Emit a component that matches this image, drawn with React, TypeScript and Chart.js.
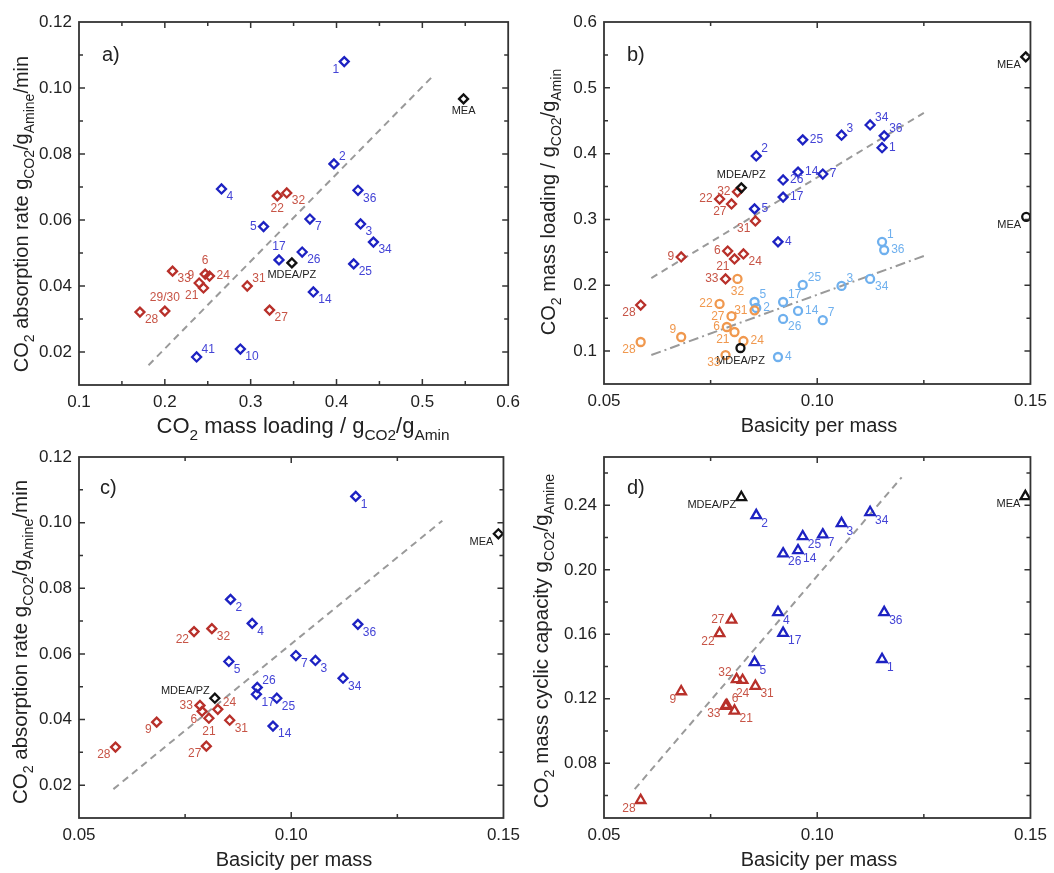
import React, { useEffect, useRef } from "react";
import { Chart, registerables } from "chart.js";
Chart.register(...registerables);

type Pt = [string, number, number];
type Seg = [string, boolean];

const FONT = '"Liberation Sans", Arial, Helvetica, sans-serif';

// ---------------- Panel a: absorption rate vs CO2 mass loading ----------------
const aBlue: Pt[] = [
  ["1", 0.409, 0.108], ["2", 0.397, 0.077], ["4", 0.266, 0.0694], ["36", 0.425, 0.069],
  ["5", 0.315, 0.058], ["7", 0.369, 0.0603], ["3", 0.428, 0.0588], ["34", 0.443, 0.0533],
  ["17", 0.333, 0.0479], ["26", 0.36, 0.0503], ["25", 0.42, 0.0467], ["14", 0.373, 0.0382],
  ["41", 0.237, 0.0185], ["10", 0.288, 0.0209],
];
const aBluePos = ["ll", "ur", "lr", "lr", "l", "lr", "lr", "lr", "a", "lr", "lr", "lr", "ur", "lr"];
const aRed: Pt[] = [
  ["22", 0.331, 0.0673], ["32", 0.342, 0.0682], ["33", 0.209, 0.0445], ["6", 0.247, 0.0436],
  ["24", 0.252, 0.043], ["9", 0.24, 0.0409], ["21", 0.245, 0.0394], ["31", 0.296, 0.04],
  ["29/30", 0.2, 0.0324], ["28", 0.171, 0.0321], ["27", 0.322, 0.0327],
];
const aRedPos = ["b", "lr", "lr", "a", "r", "ul", "ll", "ur", "a", "lr", "lr"];
const aBlack: Pt[] = [["MEA", 0.548, 0.0967], ["MDEA/PZ", 0.348, 0.047]];
const aBlackPos = ["b", "b"];
const aTrend = [[0.181, 0.016], [0.511, 0.1033]];
const aXTicks = [0.1, 0.15, 0.2, 0.25, 0.3, 0.35, 0.4, 0.45, 0.5, 0.55, 0.6];
const aXTickLabels = ["0.1", "", "0.2", "", "0.3", "", "0.4", "", "0.5", "", "0.6"];
const rateYTicks = [0.01, 0.02, 0.03, 0.04, 0.05, 0.06, 0.07, 0.08, 0.09, 0.1, 0.11, 0.12];
const rateYTickLabels = ["", "0.02", "", "0.04", "", "0.06", "", "0.08", "", "0.10", "", "0.12"];

// ---------------- Panel b: CO2 mass loading vs basicity ----------------
const bBlueD: Pt[] = [
  ["2", 0.0857, 0.3965], ["25", 0.0966, 0.421], ["3", 0.1057, 0.428], ["34", 0.1124, 0.4436],
  ["36", 0.1157, 0.427], ["1", 0.1152, 0.409], ["14", 0.0955, 0.372], ["7", 0.1013, 0.369],
  ["26", 0.092, 0.36], ["17", 0.092, 0.334], ["5", 0.0853, 0.316], ["4", 0.0908, 0.266],
];
const bBlueDPos = ["ur", "r", "ur", "ur", "ur", "r", "r", "r", "r", "r", "r", "r"];
const bRedD: Pt[] = [
  ["32", 0.0813, 0.342], ["22", 0.0771, 0.331], ["27", 0.0799, 0.3235], ["31", 0.0855, 0.2977],
  ["9", 0.0681, 0.243], ["6", 0.079, 0.252], ["21", 0.0806, 0.24], ["24", 0.0827, 0.2476],
  ["33", 0.0785, 0.2096], ["28", 0.0586, 0.17],
];
const bRedDPos = ["l", "l", "ll", "ll", "l", "l", "ll", "lr", "l", "ll"];
const bLightC: Pt[] = [
  ["1", 0.1152, 0.266], ["36", 0.1157, 0.2536], ["25", 0.0966, 0.2005], ["3", 0.1057, 0.199],
  ["34", 0.1124, 0.2096], ["5", 0.0853, 0.1746], ["2", 0.0857, 0.1655], ["17", 0.092, 0.1746],
  ["14", 0.0955, 0.161], ["26", 0.092, 0.1488], ["7", 0.1013, 0.147], ["4", 0.0908, 0.091],
];
const bLightCPos = ["ur", "r", "ur", "ur", "lr", "ur", "r", "ur", "r", "lr", "ur", "r"];
const bOrangeC: Pt[] = [
  ["32", 0.0813, 0.2096], ["22", 0.0771, 0.1716], ["27", 0.0799, 0.153], ["31", 0.0853, 0.162],
  ["6", 0.0788, 0.1366], ["9", 0.0681, 0.1214], ["21", 0.0806, 0.129], ["24", 0.0827, 0.1153],
  ["28", 0.0586, 0.1138], ["33", 0.0785, 0.094],
];
const bOrangeCPos = ["b", "l", "l", "l", "l", "ul", "ll", "r", "ll", "ll"];
const bBlackD: Pt[] = [["MEA", 0.1489, 0.547], ["MDEA/PZ", 0.0822, 0.348]];
const bBlackDPos = ["ll", "a"];
const bBlackC: Pt[] = [["MEA", 0.149, 0.304], ["MDEA/PZ", 0.082, 0.1047]];
const bBlackCPos = ["ll", "b"];
const bTrendHigh = [[0.0611, 0.211], [0.125, 0.462]];
const bTrendLow = [[0.0611, 0.094], [0.125, 0.2445]];
const basXTicks = [0.05, 0.075, 0.1, 0.125, 0.15];
const basXTickLabels = ["0.05", "", "0.10", "", "0.15"];
const bYTicks = [0.05, 0.1, 0.15, 0.2, 0.25, 0.3, 0.35, 0.4, 0.45, 0.5, 0.55, 0.6];
const bYTickLabels = ["", "0.1", "", "0.2", "", "0.3", "", "0.4", "", "0.5", "", "0.6"];

// ---------------- Panel c: absorption rate vs basicity ----------------
const cBlue: Pt[] = [
  ["1", 0.1152, 0.108], ["2", 0.0857, 0.0766], ["4", 0.0908, 0.0693], ["36", 0.1157, 0.069],
  ["5", 0.0853, 0.0577], ["7", 0.1011, 0.0595], ["3", 0.1057, 0.058], ["34", 0.1122, 0.0526],
  ["26", 0.092, 0.0498], ["17", 0.0918, 0.0477], ["25", 0.0966, 0.0465], ["14", 0.0957, 0.038],
];
const cBluePos = ["lr", "lr", "lr", "lr", "lr", "lr", "lr", "lr", "ur", "lr", "lr", "lr"];
const cRed: Pt[] = [
  ["22", 0.0771, 0.0668], ["32", 0.0813, 0.0677], ["33", 0.0785, 0.0443], ["6", 0.079, 0.0425],
  ["24", 0.0827, 0.0431], ["21", 0.0806, 0.0404], ["31", 0.0855, 0.0398], ["9", 0.0683, 0.0392],
  ["28", 0.0586, 0.0316], ["27", 0.08, 0.0319],
];
const cRedPos = ["ll", "lr", "l", "ll", "ur", "b", "lr", "ll", "ll", "ll"];
const cBlack: Pt[] = [["MEA", 0.1488, 0.0966], ["MDEA/PZ", 0.082, 0.0465]];
const cBlackPos = ["ll", "ul"];
const cTrend = [[0.0581, 0.0188], [0.1356, 0.1006]];

// ---------------- Panel d: cyclic capacity vs basicity ----------------
const dBlue: Pt[] = [
  ["2", 0.0857, 0.2338], ["34", 0.1124, 0.2357], ["3", 0.1057, 0.2288], ["7", 0.1013, 0.2218],
  ["25", 0.0966, 0.2207], ["14", 0.0955, 0.212], ["26", 0.092, 0.21], ["4", 0.0908, 0.1736],
  ["36", 0.1157, 0.1736], ["17", 0.092, 0.1607], ["5", 0.0853, 0.1426], ["1", 0.1152, 0.1445],
];
const dBluePos = ["lr", "lr", "lr", "lr", "lr", "lr", "lr", "lr", "lr", "lr", "lr", "lr"];
const dRed: Pt[] = [
  ["27", 0.0799, 0.1689], ["22", 0.0771, 0.1606], ["32", 0.0811, 0.132], ["24", 0.0825, 0.1315],
  ["31", 0.0855, 0.1278], ["9", 0.0681, 0.1245], ["6", 0.0788, 0.116], ["33", 0.0785, 0.1154],
  ["21", 0.0806, 0.1125], ["28", 0.0586, 0.057],
];
const dRedPos = ["l", "ll", "ul", "b", "lr", "ll", "ur", "ll", "lr", "ll"];
const dBlack: Pt[] = [["MEA", 0.1488, 0.2456], ["MDEA/PZ", 0.0822, 0.245]];
const dBlackPos = ["ll", "ll"];
const dTrend = [[0.0572, 0.0639], [0.1198, 0.2574]];
const dYTicks = [0.06, 0.08, 0.1, 0.12, 0.14, 0.16, 0.18, 0.2, 0.22, 0.24, 0.26];
const dYTickLabels = ["", "0.08", "", "0.12", "", "0.16", "", "0.20", "", "0.24", ""];

// ---------------- Axis titles ----------------
const rateTitle: Seg[] = [["CO", false], ["2", true], [" absorption rate g", false], ["CO2", true], ["/g", false], ["Amine", true], ["/min", false]];
const loadTitle: Seg[] = [["CO", false], ["2", true], [" mass loading / g", false], ["CO2", true], ["/g", false], ["Amin", true]];
const capTitle: Seg[] = [["CO", false], ["2", true], [" mass cyclic capacity g", false], ["CO2", true], ["/g", false], ["Amine", true]];
const basTitle: Seg[] = [["Basicity per mass", false]];

const BLUE = "#1d22c2";
const BLUE_T = "#4444d6";
const RED = "#b8302a";
const RED_T = "#c75446";
const LBLUE = "#6fb0ee";
const ORANGE = "#f0984e";
const BLACK = "#111111";

function series(pts: Pt[], pos: string[], style: string, color: string, labelColor: string, radius: number, labelSize = 12) {
  return {
    data: pts.map((p) => ({ x: p[1], y: p[2] })),
    pointStyle: style,
    pointRadius: radius,
    pointBorderWidth: 2.3,
    pointBorderColor: color,
    pointBackgroundColor: "rgba(255,255,255,0)",
    borderColor: color,
    backgroundColor: "rgba(255,255,255,0)",
    showLine: false,
    order: 1,
    ptLabels: pts.map((p) => p[0]),
    ptPos: pos,
    labelColor,
    labelSize,
  };
}

function trend(pts: number[][], dash: number[]) {
  return {
    data: pts.map((p) => ({ x: p[0], y: p[1] })),
    showLine: true,
    pointRadius: 0,
    borderColor: "#9a9a9a",
    borderWidth: 2,
    borderDash: dash,
    order: 10,
  };
}

function drawRich(ctx: CanvasRenderingContext2D, segs: Seg[], x: number, y: number, size: number, rotate: boolean, subScale = 0.7) {
  ctx.save();
  ctx.translate(x, y);
  if (rotate) ctx.rotate(-Math.PI / 2);
  const f = (s: number) => `${s}px ${FONT}`;
  let w = 0;
  for (const [t, sub] of segs) {
    ctx.font = f(sub ? size * subScale : size);
    w += ctx.measureText(t).width;
  }
  let cx = -w / 2;
  ctx.fillStyle = "#222";
  ctx.textAlign = "left";
  ctx.textBaseline = "alphabetic";
  for (const [t, sub] of segs) {
    ctx.font = f(sub ? size * subScale : size);
    ctx.fillText(t, cx, sub ? size * 0.3 : 0);
    cx += ctx.measureText(t).width;
  }
  ctx.restore();
}

type Deco = {
  xTicks: number[]; xLabels: string[]; yTicks: number[]; yLabels: string[];
  yTitle: Seg[]; yTitlePos: [number, number]; yTitleSize: number;
  xTitle: Seg[]; xTitlePos: [number, number]; xTitleSize: number;
  letter: string; letterPos: [number, number];
};

function decoPlugin(cfg: Deco) {
  return {
    id: "deco",
    afterDatasetsDraw(chart: any) {
      const ctx: CanvasRenderingContext2D = chart.ctx;
      const a = chart.chartArea;
      const xs = chart.scales.x;
      const ys = chart.scales.y;
      ctx.save();
      // point labels
      chart.data.datasets.forEach((ds: any, i: number) => {
        if (!ds.ptLabels) return;
        const meta = chart.getDatasetMeta(i);
        meta.data.forEach((el: any, j: number) => {
          const text = ds.ptLabels[j];
          const pos = ds.ptPos[j] || "r";
          const size = /[A-Z]/.test(text) ? 11 : ds.labelSize;
          ctx.font = `${size}px ${FONT}`;
          ctx.fillStyle = ds.labelColor;
          let x = el.x, y = el.y;
          let align: CanvasTextAlign = "left";
          let base: CanvasTextBaseline = "middle";
          switch (pos) {
            case "r": x += 7; break;
            case "l": x -= 7; align = "right"; break;
            case "ur": x += 5; y -= 7; break;
            case "ul": x -= 5; y -= 7; align = "right"; break;
            case "lr": x += 5; y += 8; break;
            case "ll": x -= 5; y += 8; align = "right"; break;
            case "a": y -= 7; align = "center"; base = "bottom"; break;
            case "b": y += 7; align = "center"; base = "top"; break;
          }
          ctx.textAlign = align;
          ctx.textBaseline = base;
          ctx.fillText(text, x, y);
        });
      });
      // frame
      ctx.strokeStyle = "#333";
      ctx.lineWidth = 1.8;
      ctx.strokeRect(a.left, a.top, a.right - a.left, a.bottom - a.top);
      // inward ticks on all four sides
      ctx.lineWidth = 1.5;
      ctx.beginPath();
      cfg.xTicks.forEach((v, k) => {
        const px = xs.getPixelForValue(v);
        if (px <= a.left + 1 || px >= a.right - 1) return;
        const L = cfg.xLabels[k] ? 6 : 4;
        ctx.moveTo(px, a.bottom); ctx.lineTo(px, a.bottom - L);
        ctx.moveTo(px, a.top); ctx.lineTo(px, a.top + L);
      });
      cfg.yTicks.forEach((v, k) => {
        const py = ys.getPixelForValue(v);
        if (py <= a.top + 1 || py >= a.bottom - 1) return;
        const L = cfg.yLabels[k] ? 6 : 4;
        ctx.moveTo(a.left, py); ctx.lineTo(a.left + L, py);
        ctx.moveTo(a.right, py); ctx.lineTo(a.right - L, py);
      });
      ctx.stroke();
      // titles
      drawRich(ctx, cfg.yTitle, cfg.yTitlePos[0], cfg.yTitlePos[1], cfg.yTitleSize, true);
      drawRich(ctx, cfg.xTitle, cfg.xTitlePos[0], cfg.xTitlePos[1], cfg.xTitleSize, false);
      ctx.font = `20px ${FONT}`;
      ctx.fillStyle = "#222";
      ctx.textAlign = "left";
      ctx.textBaseline = "middle";
      ctx.fillText(cfg.letter, cfg.letterPos[0], cfg.letterPos[1]);
      ctx.restore();
    },
  };
}

type PanelSpec = {
  w: number; h: number;
  area: { left: number; top: number; right: number; bottom: number };
  xMin: number; xMax: number; yMin: number; yMax: number;
  datasets: any[];
  deco: Deco;
};

function buildConfig(p: PanelSpec): any {
  const tickFont = { family: FONT, size: 17 };
  return {
    type: "scatter",
    data: { datasets: p.datasets },
    options: {
      animation: false,
      responsive: false,
      devicePixelRatio: 1,
      events: [],
      layout: { padding: { left: 0, top: p.area.top, right: p.w - p.area.right, bottom: 0 } },
      plugins: { legend: { display: false }, tooltip: { enabled: false } },
      scales: {
        x: {
          type: "linear",
          position: "bottom",
          min: p.xMin,
          max: p.xMax,
          grid: { display: false, drawTicks: false },
          border: { display: false },
          afterBuildTicks: (s: any) => { s.ticks = p.deco.xTicks.map((v) => ({ value: v })); },
          afterFit: (s: any) => { s.height = p.h - p.area.bottom; },
          ticks: {
            autoSkip: false,
            maxRotation: 0,
            padding: 7,
            color: "#222",
            font: tickFont,
            callback: (_v: any, i: number) => p.deco.xLabels[i] ?? "",
          },
        },
        y: {
          type: "linear",
          position: "left",
          min: p.yMin,
          max: p.yMax,
          grid: { display: false, drawTicks: false },
          border: { display: false },
          afterBuildTicks: (s: any) => { s.ticks = p.deco.yTicks.map((v) => ({ value: v })); },
          afterFit: (s: any) => { s.width = p.area.left; },
          ticks: {
            autoSkip: false,
            padding: 7,
            color: "#222",
            font: tickFont,
            callback: (_v: any, i: number) => p.deco.yLabels[i] ?? "",
          },
        },
      },
    },
    plugins: [decoPlugin(p.deco)],
  };
}

const DIAMOND = "rectRot";

const panelA: PanelSpec = {
  w: 527, h: 452,
  area: { left: 79, top: 22, right: 510, bottom: 385 },
  xMin: 0.1, xMax: 0.6, yMin: 0.01, yMax: 0.12,
  datasets: [
    series(aBlack, aBlackPos, DIAMOND, BLACK, "#222", 4.5),
    series(aRed, aRedPos, DIAMOND, RED, RED_T, 4.5),
    series(aBlue, aBluePos, DIAMOND, BLUE, BLUE_T, 4.5),
    trend(aTrend, [7, 5]),
  ],
  deco: {
    xTicks: aXTicks, xLabels: aXTickLabels, yTicks: rateYTicks, yLabels: rateYTickLabels,
    yTitle: rateTitle, yTitlePos: [28, 214], yTitleSize: 20,
    xTitle: loadTitle, xTitlePos: [303, 433], xTitleSize: 22,
    letter: "a)", letterPos: [102, 55],
  },
};

const panelB: PanelSpec = {
  w: 527, h: 452,
  area: { left: 77, top: 22, right: 508, bottom: 384 },
  xMin: 0.05, xMax: 0.15, yMin: 0.05, yMax: 0.6,
  datasets: [
    series(bBlackD, bBlackDPos, DIAMOND, BLACK, "#222", 4.5),
    series(bBlackC, bBlackCPos, "circle", BLACK, "#222", 4),
    series(bRedD, bRedDPos, DIAMOND, RED, RED_T, 4.5),
    series(bBlueD, bBlueDPos, DIAMOND, BLUE, BLUE_T, 4.5),
    series(bOrangeC, bOrangeCPos, "circle", ORANGE, ORANGE, 4),
    series(bLightC, bLightCPos, "circle", LBLUE, LBLUE, 4),
    trend(bTrendHigh, [7, 5]),
    trend(bTrendLow, [10, 4, 2, 4]),
  ],
  deco: {
    xTicks: basXTicks, xLabels: basXTickLabels, yTicks: bYTicks, yLabels: bYTickLabels,
    yTitle: loadTitle, yTitlePos: [28, 202], yTitleSize: 20,
    xTitle: basTitle, xTitlePos: [292, 432], xTitleSize: 20,
    letter: "b)", letterPos: [100, 55],
  },
};

const panelC: PanelSpec = {
  w: 527, h: 436,
  area: { left: 79, top: 20, right: 510, bottom: 381 },
  xMin: 0.05, xMax: 0.15, yMin: 0.01, yMax: 0.12,
  datasets: [
    series(cBlack, cBlackPos, DIAMOND, BLACK, "#222", 4.5),
    series(cRed, cRedPos, DIAMOND, RED, RED_T, 4.5),
    series(cBlue, cBluePos, DIAMOND, BLUE, BLUE_T, 4.5),
    trend(cTrend, [7, 5]),
  ],
  deco: {
    xTicks: basXTicks, xLabels: basXTickLabels, yTicks: rateYTicks, yLabels: rateYTickLabels,
    yTitle: rateTitle, yTitlePos: [27, 205], yTitleSize: 20.5,
    xTitle: basTitle, xTitlePos: [294, 429], xTitleSize: 20,
    letter: "c)", letterPos: [100, 51],
  },
};

const panelD: PanelSpec = {
  w: 527, h: 436,
  area: { left: 77, top: 20, right: 508, bottom: 381 },
  xMin: 0.05, xMax: 0.15, yMin: 0.046, yMax: 0.27,
  datasets: [
    series(dBlack, dBlackPos, "triangle", BLACK, "#222", 5.5),
    series(dRed, dRedPos, "triangle", RED, RED_T, 5.5),
    series(dBlue, dBluePos, "triangle", BLUE, BLUE_T, 5.5),
    trend(dTrend, [7, 5]),
  ],
  deco: {
    xTicks: basXTicks, xLabels: basXTickLabels, yTicks: dYTicks, yLabels: dYTickLabels,
    yTitle: capTitle, yTitlePos: [21, 204], yTitleSize: 20.5,
    xTitle: basTitle, xTitlePos: [292, 429], xTitleSize: 20,
    letter: "d)", letterPos: [100, 51],
  },
};

function Panel({ spec, left, top }: { spec: PanelSpec; left: number; top: number }) {
  const ref = useRef<HTMLCanvasElement | null>(null);
  useEffect(() => {
    if (!ref.current) return;
    const chart = new Chart(ref.current, buildConfig(spec));
    return () => chart.destroy();
  }, [spec]);
  return (
    <canvas
      ref={ref}
      width={spec.w}
      height={spec.h}
      style={{ position: "absolute", left, top, width: spec.w, height: spec.h, display: "block" }}
    />
  );
}

export default function App() {
  return (
    <div style={{ position: "absolute", left: 0, top: 0, width: 1054, height: 873, background: "#fff", overflow: "hidden" }}>
      <Panel spec={panelC} left={0} top={437} />
      <Panel spec={panelD} left={527} top={437} />
      <Panel spec={panelA} left={0} top={0} />
      <Panel spec={panelB} left={527} top={0} />
    </div>
  );
}
